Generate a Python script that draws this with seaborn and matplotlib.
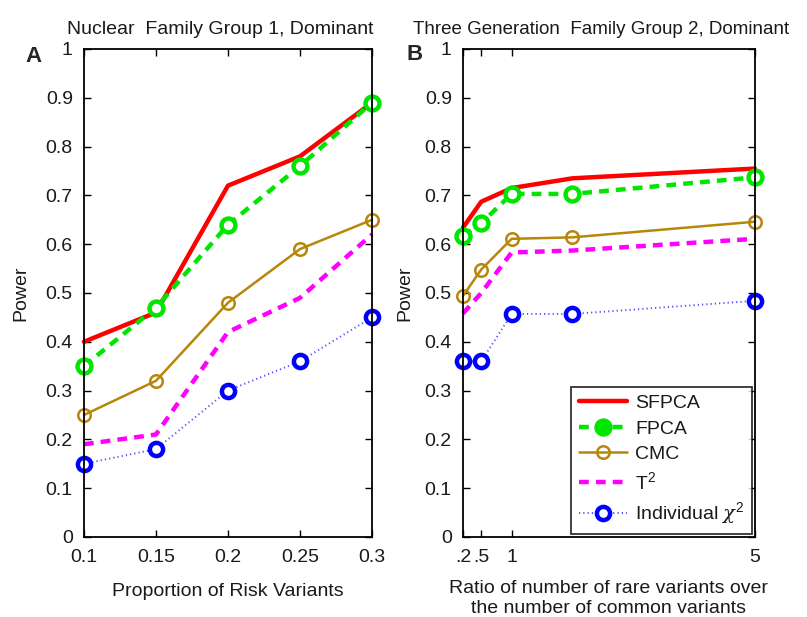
import matplotlib
matplotlib.use("Agg")
import matplotlib.pyplot as plt
import seaborn as sns
import numpy as np
import pandas as pd
import copy

sns.set_theme(style="white")
plt.rcParams['font.family'] = ['Liberation Sans', 'DejaVu Sans']
plt.rcParams['mathtext.fontset'] = 'custom'
plt.rcParams['mathtext.rm'] = 'Liberation Sans'
plt.rcParams['mathtext.it'] = 'DejaVu Serif:italic'

# ---- data ----
methods = ["SFPCA", "FPCA", "CMC", "T$^2$", "Individual $\\chi^2$"]

xA = [0.1, 0.15, 0.2, 0.25, 0.3]
A_sfpca = [0.40, 0.46, 0.72, 0.78, 0.89]
A_fpca = [0.35, 0.47, 0.64, 0.76, 0.89]
A_cmc = [0.25, 0.32, 0.48, 0.59, 0.65]
A_t2 = [0.19, 0.21, 0.42, 0.49, 0.62]
A_ind = [0.15, 0.18, 0.30, 0.36, 0.45]

xB = [0.2, 0.5, 1, 2, 5]
B_sfpca = [0.634, 0.687, 0.715, 0.735, 0.755]
B_fpca = [0.617, 0.643, 0.703, 0.703, 0.737]
B_cmc = [0.494, 0.548, 0.611, 0.614, 0.646]
B_t2 = [0.458, 0.50, 0.583, 0.587, 0.611]
B_ind = [0.36, 0.36, 0.457, 0.457, 0.484]

xA_ticks = [0.1, 0.15, 0.2, 0.25, 0.3]
xA_ticklabels = ["0.1", "0.15", "0.2", "0.25", "0.3"]
xB_ticks = [0.2, 0.5, 1, 5]
xB_ticklabels = [".2", ".5", "1", "5"]
y_ticks = [0, 0.1, 0.2, 0.3, 0.4, 0.5, 0.6, 0.7, 0.8, 0.9, 1.0]
y_ticklabels = ["0", "0.1", "0.2", "0.3", "0.4", "0.5", "0.6", "0.7", "0.8", "0.9", "1"]

styles = {
    "SFPCA": dict(color="#ff0000", lw=3.2, ls="-", marker=None),
    "FPCA": dict(color="#00e600", lw=3.2, ls=(0, (2.2, 1.6)), marker="o", ms=10,
                 mfc="white", mec="#00e600", mew=3.2),
    "CMC": dict(color="#b8860b", lw=1.8, ls="-", marker="o", ms=9,
                mfc="none", mec="#b8860b", mew=1.8),
    "T2": dict(color="#ff00ff", lw=3.2, ls=(0, (2.2, 1.6)), marker=None),
    "IND": dict(color="#4d4dff", lw=1.4, ls=(0, (0.6, 1.6)), marker="o", ms=9.5,
                mfc="white", mec="#0000ff", mew=3.2),
}

fig = plt.figure(figsize=(8.07, 6.17), dpi=100)
axA = fig.add_axes([0.104, 0.1297, 0.357, 0.7909])
axB = fig.add_axes([0.5737, 0.1297, 0.3618, 0.7909])

def draw(ax, x, series):
    keys = ["SFPCA", "FPCA", "CMC", "T2", "IND"]
    for name, key, ys in zip(methods, keys, series):
        st = dict(styles[key])
        df = pd.DataFrame({"x": x, "y": ys})
        marker = st.pop("marker")
        kw = dict(color=st.pop("color"), linewidth=st.pop("lw"), linestyle=st.pop("ls"))
        if marker:
            kw.update(marker=marker, markersize=st["ms"], markerfacecolor=st["mfc"],
                      markeredgecolor=st["mec"], markeredgewidth=st["mew"])
        sns.lineplot(data=df, x="x", y="y", ax=ax, label=name, clip_on=False, **kw)

draw(axA, xA, [A_sfpca, A_fpca, A_cmc, A_t2, A_ind])
draw(axB, xB, [B_sfpca, B_fpca, B_cmc, B_t2, B_ind])

fs = 14
tc = "#1a1a1a"
for ax in (axA, axB):
    ax.set_ylim(0, 1)
    ax.set_yticks(y_ticks)
    ax.set_yticklabels(y_ticklabels, fontsize=fs)
    ax.set_ylabel("Power", fontsize=fs, color=tc)
    ax.tick_params(axis="both", direction="in", length=5, width=1, top=True, right=True,
                   bottom=True, left=True, colors="black", labelcolor=tc)
    ax.tick_params(axis="x", pad=9)
    ax.tick_params(axis="y", pad=8)
    for s in ax.spines.values():
        s.set_color("black")
        s.set_linewidth(1.3)

axA.yaxis.set_label_coords(-0.19, 0.5)
axB.yaxis.set_label_coords(-0.17, 0.5)

axA.set_xlim(0.1, 0.3)
axA.set_xticks(xA_ticks)
axA.set_xticklabels(xA_ticklabels, fontsize=fs)
axA.set_xlabel("Proportion of Risk Variants", fontsize=fs, labelpad=12, color=tc)
axA.get_legend().remove()

axB.set_xlim(0.2, 5)
axB.set_xticks(xB_ticks)
axB.set_xticklabels(xB_ticklabels, fontsize=fs)
axB.set_xlabel("Ratio of number of rare variants over\nthe number of common variants",
               fontsize=fs, labelpad=10, linespacing=1.2, color=tc)

fig.text(220 / 807, 1 - 29 / 617, "Nuclear  Family Group 1, Dominant", fontsize=14,
         ha="center", va="center", color=tc)
fig.text(601 / 807, 1 - 29 / 617, "Three Generation  Family Group 2, Dominant", fontsize=13.5,
         ha="center", va="center", color=tc)

handles, labels = axB.get_legend_handles_labels()
h2 = []
for i, h in enumerate(handles):
    hc = copy.copy(h)
    if i == 1:
        hc.set_markerfacecolor("#00e600")
    h2.append(hc)
leg = axB.legend(h2, labels, loc="lower right", fontsize=fs, frameon=True,
                 fancybox=False, edgecolor="black", borderaxespad=0.15,
                 handlelength=2.5, labelspacing=0.4, borderpad=0.4, handletextpad=0.4)
leg.get_frame().set_linewidth(1.3)
for t in leg.get_texts():
    t.set_color(tc)

fig.text(25 / 807, 1 - 56 / 617, "A", fontsize=16, fontweight="bold", ha="left", va="center")
fig.text(406 / 807, 1 - 55 / 617, "B", fontsize=16, fontweight="bold", ha="left", va="center")

fig.savefig("out.png", dpi=100, facecolor="white")
